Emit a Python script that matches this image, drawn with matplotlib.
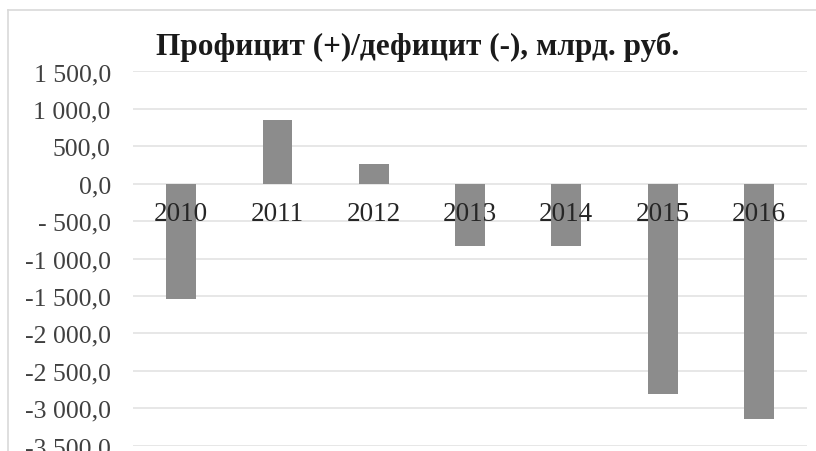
import matplotlib.pyplot as plt
from matplotlib.lines import Line2D

# data
years = ["2010", "2011", "2012", "2013", "2014", "2015", "2016"]
balance = [-1535.0, 855.0, 270.0, -835.0, -835.0, -2810.0, -3140.0]
y_ticks = [1500, 1000, 500, 0, -500, -1000, -1500, -2000, -2500, -3000, -3500]
y_tick_labels = ["1 500,0", "1 000,0", "500,0", "0,0", "- 500,0", "-1 000,0",
                 "-1 500,0", "-2 000,0", "-2 500,0", "-3 000,0", "-3 500,0"]
title = "Профицит (+)/дефицит (-), млрд. руб."

plt.rcParams["font.family"] = ["Liberation Serif", "DejaVu Serif"]

fig = plt.figure(figsize=(8.16, 4.52), dpi=100)
ax = fig.add_axes([0.163, 0.0117, 0.826, 0.8280])

x = list(range(len(years)))
ax.bar(x, balance, width=0.31, color="#8c8c8c", zorder=3)

ax.set_xlim(-0.5, len(years) - 0.5)
ax.set_ylim(-3500, 1500)
ax.set_yticks(y_ticks)
ax.set_yticklabels(y_tick_labels, fontsize=18.5, color="#404040")
ax.yaxis.grid(True, color="#e3e3e3", linewidth=1.2, zorder=0)
ax.tick_params(axis="y", length=0, pad=16)

# year labels sit just under the zero line, drawn over the bars
ax.spines["bottom"].set_position(("data", 0))
ax.set_xticks(x)
ax.set_xticklabels(years, fontsize=19.5, color="#262626")
ax.tick_params(axis="x", length=0, pad=12.5)
ax.xaxis.set_zorder(5)
for s in ["top", "right", "left", "bottom"]:
    ax.spines[s].set_visible(False)

fig.text(0.512, 0.878, title, ha="center", va="baseline",
         fontsize=22.5, fontweight="bold", color="#1a1a1a")

# chart area border (left and top visible)
fig.add_artist(Line2D([0.0098, 0.0098], [0.0, 0.9757], color="#d9d9d9",
                      linewidth=1.2, transform=fig.transFigure))
fig.add_artist(Line2D([0.0098, 1.0], [0.9757, 0.9757], color="#d9d9d9",
                      linewidth=1.2, transform=fig.transFigure))

fig.savefig("out.png", dpi=100)
